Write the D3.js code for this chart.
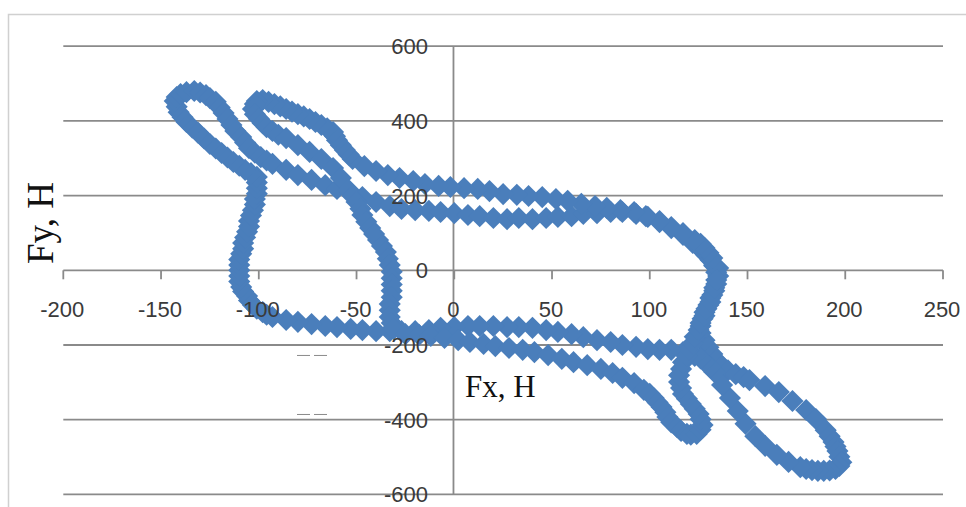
<!DOCTYPE html>
<html><head><meta charset="utf-8">
<script src="https://cdn.jsdelivr.net/npm/d3@7"></script>
<style>body{margin:0;background:#fff}svg{display:block}</style>
</head><body>
<svg id="chart" width="966" height="507"></svg>
<script>
// Fx, H (sampled force trajectory)
const fx = [
135,135,134,133,131,130,128,127,126,126,
128,130,132,134,137,140,144,148,151,159,
166,173,180,185,190,192,194,195,196,197,
198,197,195,192,189,186,183,180,177,171,
165,159,154,149,145,141,137,133,131,128,
126,123,117,111,105,99,93,86,80,73,
66,60,53,47,40,33,27,20,13,7,
0,-7,-13,-20,-27,-33,-40,-47,-53,-60,
-66,-73,-80,-86,-93,-96,-98,-101,-103,-105,
-106,-108,-109,-110,-110,-110,-110,-110,-109,-108,
-108,-107,-106,-105,-105,-104,-103,-102,-102,-101,
-101,-101,-101,-104,-107,-110,-113,-116,-119,-122,
-125,-128,-131,-134,-137,-139,-141,-142,-143,-142,
-140,-137,-133,-130,-127,-125,-122,-120,-118,-116,
-114,-112,-109,-107,-105,-102,-99,-96,-93,-86,
-80,-73,-66,-60,-53,-47,-40,-33,-27,-20,
-13,-7,0,7,13,20,27,33,40,47,
53,60,66,73,80,86,93,99,105,111,
117,122,125,127,129,131,133,
134,133,132,130,128,126,123,117,111,105,
98,92,85,78,72,65,58,52,45,38,
32,25,18,12,5,-2,-8,-15,-21,-28,
-34,-40,-46,-52,-54,-56,-58,-60,-61,-62,
-65,-68,-71,-74,-77,-80,-83,-86,-89,-92,
-95,-98,-101,-102,-103,-102,-100,-98,-96,-93,
-90,-86,-80,-74,-68,-62,-58,-54,-52,-50,
-48,-47,-45,-43,-41,-39,-37,-35,-34,-33,
-32,-32,-32,-32,-32,-33,-33,-33,-32,-31,
-25,-18,-12,-5,2,8,15,21,28,35,
41,48,55,61,68,75,81,86,92,97,
100,102,104,106,108,109,111,114,116,119,
121,124,126,127,126,125,123,121,119,117,
116,115,115,116,117,119,120,122,123,125,
126,128,129,131,132,133,134];
// Fy, H
const fy = [
6,-15,-37,-55,-74,-93,-112,-130,-149,-168,
-187,-206,-224,-241,-256,-268,-278,-286,-294,-310,
-326,-350,-374,-398,-428,-444,-460,-472,-484,-499,
-514,-524,-532,-536,-537,-537,-535,-532,-527,-513,
-494,-470,-444,-411,-377,-342,-307,-272,-258,-245,
-236,-229,-219,-213,-213,-211,-205,-200,-192,-187,
-179,-171,-165,-160,-154,-152,-152,-149,-149,-149,
-152,-154,-160,-163,-163,-163,-163,-160,-157,-152,
-149,-144,-138,-133,-125,-119,-112,-103,-93,-81,
-69,-57,-45,-30,-15,0,14,29,44,58,
73,88,103,117,132,147,161,176,191,205,
220,235,250,260,269,280,290,302,314,326,
338,353,368,382,397,410,423,438,453,464,
472,477,480,476,469,461,451,436,421,405,
389,373,357,342,327,315,303,294,285,269,
255,242,228,218,207,196,183,172,164,161,
159,156,153,148,145,140,137,140,137,140,
143,145,151,153,156,156,151,143,129,113,
95,73,62,52,40,28,12,
-5,14,33,47,60,71,81,100,116,132,
145,156,161,167,172,178,186,191,196,199,
202,204,212,218,220,223,226,231,239,247,
255,266,279,298,310,322,335,348,359,370,
380,389,397,405,412,418,425,432,439,445,
451,456,453,445,432,418,406,394,383,373,
363,354,335,317,298,274,247,215,199,183,
165,148,130,113,97,81,65,49,31,14,
-4,-21,-38,-55,-72,-90,-107,-125,-141,-157,
-171,-173,-176,-181,-187,-192,-197,-203,-208,-213,
-219,-227,-237,-246,-254,-264,-275,-288,-302,-320,
-331,-342,-354,-366,-380,-393,-407,-420,-430,-438,
-440,-438,-427,-414,-399,-385,-371,-358,-344,-331,
-315,-299,-281,-264,-246,-229,-212,-195,-178,-160,
-141,-122,-103,-85,-66,-47,-26];

const xTicks = [-200,-150,-100,-50,0,50,100,150,200,250];
const yTicks = [600,400,200,0,-200,-400,-600];
const xTitle = "Fx, H";
const yTitle = "Fy, H";

const svg = d3.select("#chart");
const x = d3.scaleLinear().domain([-200,250]).range([63.3,943]);
const y = d3.scaleLinear().domain([-600,600]).range([494.4,46.2]);

// outer chart border
svg.append("path").attr("d","M8.5,507 V14.5 H966").attr("fill","none")
  .attr("stroke","#d0d0d0").attr("stroke-width",1.5);

// gridlines
svg.append("g").selectAll("line").data(yTicks).join("line")
  .attr("x1",x(-200)).attr("x2",x(250))
  .attr("y1",d=>y(d)).attr("y2",d=>y(d))
  .attr("stroke","#8a8a8a").attr("stroke-width",1.8);

// vertical axis at x=0
svg.append("line").attr("x1",x(0)-0.8).attr("x2",x(0)-0.8)
  .attr("y1",y(600)).attr("y2",y(-600))
  .attr("stroke","#8a8a8a").attr("stroke-width",1.8);

// x tick marks
svg.append("g").selectAll("line").data(xTicks).join("line")
  .attr("x1",d=>x(d)).attr("x2",d=>x(d))
  .attr("y1",y(0)).attr("y2",y(0)+9)
  .attr("stroke","#8a8a8a").attr("stroke-width",1.8);

// small dash artifacts
const dashYs = [-228,-386];
const dg = svg.append("g");
dashYs.forEach(v=>{
  dg.append("line").attr("x1",297).attr("x2",310).attr("y1",y(v)).attr("y2",y(v)).attr("stroke","#8a8a8a").attr("stroke-width",1);
  dg.append("line").attr("x1",314).attr("x2",327).attr("y1",y(v)).attr("y2",y(v)).attr("stroke","#8a8a8a").attr("stroke-width",1);
});

// markers (diamonds)
const n = Math.min(fx.length, fy.length);
const pts = d3.range(n).map(i=>[fx[i],fy[i]]);
const sym = d3.symbol().type(d3.symbolSquare).size(245);
svg.append("g").selectAll("path").data(pts).join("path")
  .attr("d",sym)
  .attr("transform",d=>`translate(${x(d[0])},${y(d[1])}) rotate(45)`)
  .attr("fill","#4a7ebb");

// tick labels
const lab = svg.append("g").attr("font-family","'Liberation Sans', Arial, sans-serif")
  .attr("font-size",22).attr("fill","#3a3a3a");
lab.selectAll("text.yl").data(yTicks).join("text").attr("class","yl")
  .attr("x",428).attr("y",d=>y(d)).attr("dy","0.36em").attr("text-anchor","end")
  .text(d=>d);
lab.selectAll("text.xl").data(xTicks).join("text").attr("class","xl")
  .attr("x",d=>x(d)-1).attr("y",317).attr("text-anchor","middle")
  .text(d=>d);

// axis titles
svg.append("text").attr("x",465).attr("y",397)
  .attr("font-family","'Liberation Serif','Times New Roman',serif").attr("font-size",31)
  .attr("fill","#111").text(xTitle);
svg.append("text").attr("transform","translate(53,223) rotate(-90)")
  .attr("text-anchor","middle")
  .attr("font-family","'Liberation Serif','Times New Roman',serif").attr("font-size",37)
  .attr("fill","#111").text(yTitle);
</script>
</body></html>
